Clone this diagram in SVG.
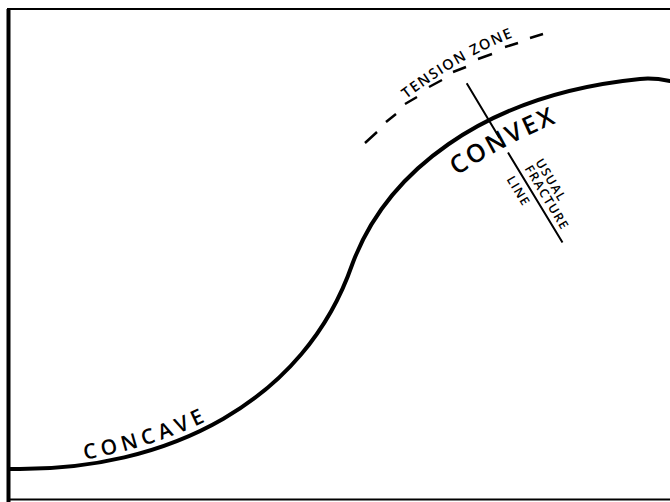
<svg xmlns="http://www.w3.org/2000/svg" xmlns:xlink="http://www.w3.org/1999/xlink" width="670" height="502" viewBox="0 0 670 502">
<style>
.frame{stroke:#000;fill:none}
.curve{stroke:#000;stroke-width:4;fill:none;stroke-linecap:round}
.thin{stroke:#000;stroke-width:2;fill:none}
.dash{stroke:#000;stroke-width:2.5;fill:none;stroke-linecap:butt}
text{font-family:"Open Sans","Liberation Sans",sans-serif;fill:#000}
.big{font-size:25px;letter-spacing:2.5px;font-weight:600}
.mid{font-size:21px;letter-spacing:4.8px;font-weight:600}
.small{font-size:14.5px;letter-spacing:1.6px;font-weight:600}
.tiny{font-size:12.5px;letter-spacing:1.4px;font-weight:600}
</style>
<defs>
<path id="convexPath" d="M 448 182 Q 500 145 566 119"/>
<path id="concavePath" d="M 62 463 Q 150 452 224 412"/>
<path id="tensionPath" d="M 360 138 Q 449 56 541 27"/>
</defs>
<rect width="670" height="502" fill="#fff"/>
<g id="frame">
<line class="frame" x1="8.5" y1="9" x2="8.5" y2="502" stroke-width="4"/>
<line class="frame" x1="7" y1="9" x2="670" y2="9" stroke-width="2"/>
<line class="frame" x1="7" y1="499.5" x2="670" y2="499.5" stroke-width="2"/>
</g>
<g id="connectors">
<path id="profile" class="curve" d="M 10 469 C 170 472, 305 400, 352 265 C 385 175, 480 95, 640 79 C 650 78, 660 79, 670 81"/>
<path id="fracture-line" class="thin" d="M 466.7 83.3 L 499.5 138 M 508 152.5 L 562.5 242.5"/>
<path id="tension-zone" class="dash" d="M 365 143 L 377 132 M 386 122 L 396 114 M 405 104 L 417 97 M 429 87 L 442 80 M 453 72 L 466 67 M 478 59 L 492 54 M 505 47 L 518 43 M 530 38 L 543 34"/>
</g>
<g id="label-convex">
<text class="big"><textPath xlink:href="#convexPath" href="#convexPath" startOffset="51%" text-anchor="middle">CONVEX</textPath></text>
</g>
<g id="label-concave">
<text class="mid"><textPath xlink:href="#concavePath" href="#concavePath" startOffset="52%" text-anchor="middle">CONCAVE</textPath></text>
</g>
<g id="label-tension">
<text class="small"><textPath xlink:href="#tensionPath" href="#tensionPath" startOffset="57.5%" text-anchor="middle">TENSION ZONE</textPath></text>
</g>
<g id="label-fracture" transform="translate(518.8 172.9) rotate(59)">
<text class="tiny" x="-1" y="-19.5">USUAL</text>
<text class="tiny" x="-1" y="-7">FRACTURE</text>
<text class="tiny" x="-1" y="14">LINE</text>
</g>
</svg>
